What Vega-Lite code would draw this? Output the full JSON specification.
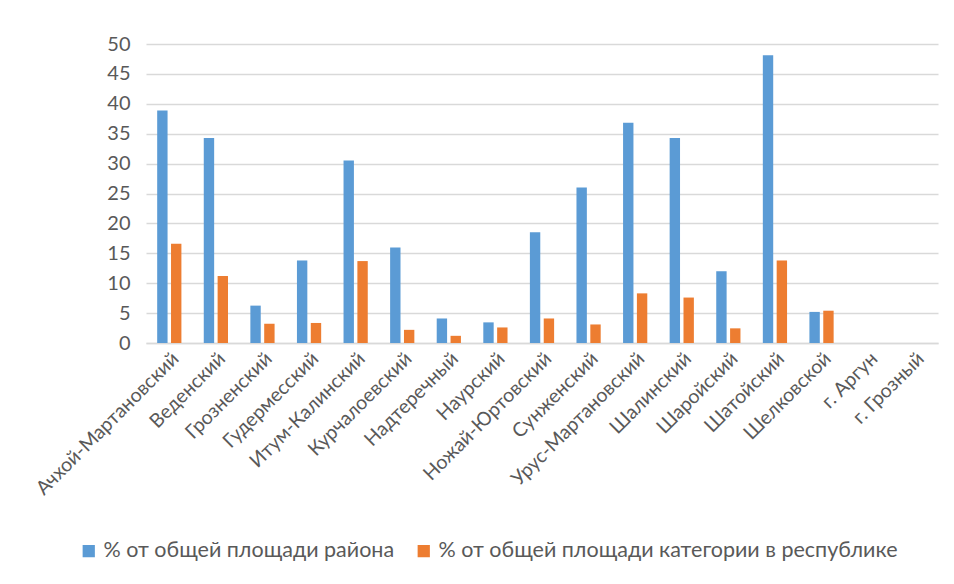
{
  "$schema": "https://vega.github.io/schema/vega-lite/v6.json",
  "autosize": "none",
  "width": 792,
  "height": 299,
  "padding": {"left": 146, "top": 44, "right": 16, "bottom": 241},
  "background": "white",
  "config": {"view": {"stroke": null}, "font": "Lato"},
  "data": {"values": [
    {"district": "Ачхой-Мартановский", "series": "% от общей площади района", "value": 38.9},
    {"district": "Ачхой-Мартановский", "series": "% от общей площади категории в республике", "value": 16.6},
    {"district": "Веденский", "series": "% от общей площади района", "value": 34.3},
    {"district": "Веденский", "series": "% от общей площади категории в республике", "value": 11.2},
    {"district": "Грозненский", "series": "% от общей площади района", "value": 6.25},
    {"district": "Грозненский", "series": "% от общей площади категории в республике", "value": 3.2},
    {"district": "Гудермесский", "series": "% от общей площади района", "value": 13.8},
    {"district": "Гудермесский", "series": "% от общей площади категории в республике", "value": 3.35},
    {"district": "Итум-Калинский", "series": "% от общей площади района", "value": 30.5},
    {"district": "Итум-Калинский", "series": "% от общей площади категории в республике", "value": 13.7},
    {"district": "Курчалоевский", "series": "% от общей площади района", "value": 15.95},
    {"district": "Курчалоевский", "series": "% от общей площади категории в республике", "value": 2.2},
    {"district": "Надтеречный", "series": "% от общей площади района", "value": 4.1},
    {"district": "Надтеречный", "series": "% от общей площади категории в республике", "value": 1.2},
    {"district": "Наурский", "series": "% от общей площади района", "value": 3.45},
    {"district": "Наурский", "series": "% от общей площади категории в республике", "value": 2.6},
    {"district": "Ножай-Юртовский", "series": "% от общей площади района", "value": 18.5},
    {"district": "Ножай-Юртовский", "series": "% от общей площади категории в республике", "value": 4.1},
    {"district": "Сунженский", "series": "% от общей площади района", "value": 26.0},
    {"district": "Сунженский", "series": "% от общей площади категории в республике", "value": 3.1},
    {"district": "Урус-Мартановский", "series": "% от общей площади района", "value": 36.85},
    {"district": "Урус-Мартановский", "series": "% от общей площади категории в республике", "value": 8.3},
    {"district": "Шалинский", "series": "% от общей площади района", "value": 34.3},
    {"district": "Шалинский", "series": "% от общей площади категории в республике", "value": 7.6},
    {"district": "Шаройский", "series": "% от общей площади района", "value": 12.0},
    {"district": "Шаройский", "series": "% от общей площади категории в республике", "value": 2.45},
    {"district": "Шатойский", "series": "% от общей площади района", "value": 48.1},
    {"district": "Шатойский", "series": "% от общей площади категории в республике", "value": 13.8},
    {"district": "Шелковской", "series": "% от общей площади района", "value": 5.2},
    {"district": "Шелковской", "series": "% от общей площади категории в республике", "value": 5.4},
    {"district": "г. Аргун", "series": "% от общей площади района", "value": 0},
    {"district": "г. Аргун", "series": "% от общей площади категории в республике", "value": 0},
    {"district": "г. Грозный", "series": "% от общей площади района", "value": 0},
    {"district": "г. Грозный", "series": "% от общей площади категории в республике", "value": 0}
  ]},
  "mark": {"type": "bar"},
  "encoding": {
    "x": {
      "field": "district", "type": "nominal", "sort": null,
      "scale": {"paddingInner": 0.48, "paddingOuter": 0.24},
      "axis": {
        "title": null, "labelAngle": -45, "labelFontSize": 19.5, "labelColor": "#595959",
        "ticks": false, "domainColor": "#d9d9d9", "domainWidth": 1.5, "labelPadding": 6,
        "labelFont": "Lato", "labelLimit": 0
      }
    },
    "xOffset": {
      "field": "series", "type": "nominal", "sort": null,
      "scale": {"paddingInner": 0.25}
    },
    "y": {
      "field": "value", "type": "quantitative",
      "scale": {"domain": [0, 50]},
      "axis": {
        "title": null, "values": [0, 5, 10, 15, 20, 25, 30, 35, 40, 45, 50],
        "domain": false, "ticks": false, "gridColor": "#d9d9d9", "gridWidth": 1.3,
        "labelFontSize": 20, "labelColor": "#595959", "labelPadding": 16, "labelFont": "Lato"
      }
    },
    "color": {
      "field": "series", "type": "nominal", "sort": null,
      "scale": {"range": ["#5B9BD5", "#ED7D31"]},
      "legend": {
        "title": null, "orient": "none", "direction": "horizontal",
        "legendX": -68, "legendY": 496, "symbolType": "square", "symbolSize": 150,
        "symbolStrokeWidth": 0, "labelFontSize": 21.5, "labelColor": "#595959",
        "labelFont": "Lato", "columnPadding": 18, "symbolOffset": 0, "labelOffset": 4,
        "labelLimit": 0
      }
    }
  }
}
